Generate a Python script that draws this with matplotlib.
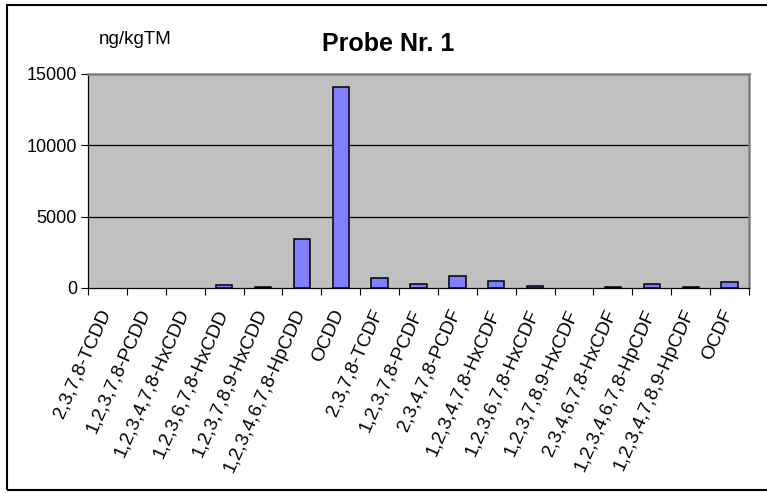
import matplotlib
matplotlib.use("Agg")
import matplotlib.pyplot as plt
import numpy as np
from matplotlib.patches import Rectangle

plt.rcParams['font.family'] = ['Liberation Sans', 'DejaVu Sans']

categories = ["2,3,7,8-TCDD", "1,2,3,7,8-PCDD", "1,2,3,4,7,8-HxCDD", "1,2,3,6,7,8-HxCDD",
              "1,2,3,7,8,9-HxCDD", "1,2,3,4,6,7,8-HpCDD", "OCDD", "2,3,7,8-TCDF",
              "1,2,3,7,8-PCDF", "2,3,4,7,8-PCDF", "1,2,3,4,7,8-HxCDF", "1,2,3,6,7,8-HxCDF",
              "1,2,3,7,8,9-HxCDF", "2,3,4,6,7,8-HxCDF", "1,2,3,4,6,7,8-HpCDF",
              "1,2,3,4,7,8,9-HpCDF", "OCDF"]
values = [0, 0, 0, 180, 60, 3400, 14100, 720, 270, 810, 470, 140, 0, 60, 260, 100, 440]
yticks = [0, 5000, 10000, 15000]

W, H = 767, 493
fig = plt.figure(figsize=(W / 100, H / 100), dpi=100)
ax = fig.add_axes([88 / W, 1 - 288 / H, (749 - 88) / W, (288 - 74) / H])

x = np.arange(len(categories))
edges = ['black' if v > 0 else 'none' for v in values]
ax.bar(x, values, width=0.42, color='#8080FF', edgecolor=edges, linewidth=1.1, zorder=3)
ax.set_facecolor('#C0C0C0')
ax.set_xlim(-0.5, len(categories) - 0.5)
ax.set_ylim(0, 15000)
ax.set_yticks(yticks)
ax.set_yticklabels([str(v) for v in yticks], fontsize=13)
for v in yticks[1:-1]:
    ax.axhline(v, color='black', linewidth=0.9, zorder=2)

ax.set_xticks(np.arange(len(categories) + 1) - 0.5)
ax.set_xticklabels([])
ax.tick_params(axis='x', length=5, width=0.8, direction='out')
ax.tick_params(axis='y', length=5, width=0.8, direction='out', pad=3)
for i, lab in enumerate(categories):
    ax.text(i - 0.02, -1550, lab, rotation=66, rotation_mode='anchor', ha='right', va='center',
            fontsize=13.7, transform=ax.transData, clip_on=False)

ax.spines['left'].set_color('black')
ax.spines['bottom'].set_color('black')
ax.spines['left'].set_linewidth(0.9)
ax.spines['bottom'].set_linewidth(0.9)
ax.spines['top'].set_color('#808080')
ax.spines['right'].set_color('#808080')
ax.spines['top'].set_linewidth(1.8)
ax.spines['right'].set_linewidth(1.8)

fig.text(388 / W, 1 - 44 / H, "Probe Nr. 1", fontsize=18, fontweight='bold', ha='center', va='center')
fig.text(135 / W, 1 - 39 / H, "ng/kgTM", fontsize=13.5, ha='center', va='center')

fig.add_artist(Rectangle((7 / W, 1 - 490 / H), (775 - 7) / W, (490 - 5) / H, transform=fig.transFigure,
                         fill=False, edgecolor='black', linewidth=1.5, clip_on=False))

fig.savefig("out.png", dpi=100)
